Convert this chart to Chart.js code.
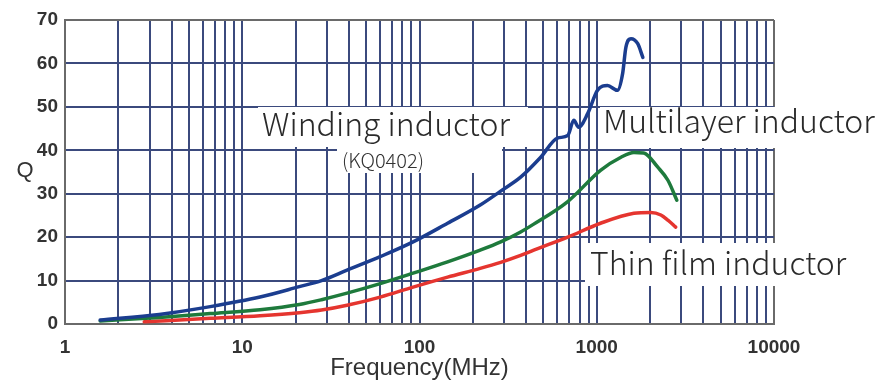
<!DOCTYPE html>
<html>
<head>
<meta charset="utf-8">
<script src="https://cdn.jsdelivr.net/npm/chart.js@4.4.0/dist/chart.umd.min.js"></script>
<style>
    html, body { margin: 0; padding: 0; background: #fff; }
</style>
</head>
<body>
<canvas id="chart-q" width="894" height="384"></canvas>
<script>
// Q vs frequency
const windingFreq = [1.58, 3.4, 6.6, 12.6, 21, 28, 39, 60, 92, 144, 220, 287, 372, 483, 600, 686, 742, 790, 890, 1010, 1150, 1310, 1400, 1460, 1560, 1700, 1820];
const windingQ    = [0.9, 2.2, 4.0, 6.2, 8.6, 10.0, 12.4, 15.5, 18.9, 23.2, 27.4, 30.6, 33.8, 38.4, 42.8, 43.4, 46.9, 45.3, 48.5, 53.8, 54.9, 53.8, 57.7, 63.7, 65.7, 64.6, 61.4];

const multiFreq = [1.58, 3.4, 6.6, 12.6, 21, 28, 39, 60, 92, 144, 220, 287, 372, 441, 686, 1050, 1370, 1620, 1840, 2210, 2520, 2830];
const multiQ    = [0.7, 1.5, 2.4, 3.3, 4.5, 5.6, 7.1, 9.3, 11.7, 14.3, 17.0, 18.9, 21.2, 23.0, 28.2, 35.4, 38.4, 39.5, 39.4, 36.1, 33.1, 28.5];

const thinFreq = [2.8, 6.6, 12.6, 21, 28, 39, 60, 92, 144, 220, 287, 372, 441, 686, 1050, 1620, 2020, 2300, 2520, 2790];
const thinQ    = [0.5, 1.3, 1.9, 2.6, 3.2, 4.3, 6.2, 8.5, 10.8, 12.8, 14.2, 15.8, 17, 20, 23.2, 25.5, 25.7, 25.1, 23.9, 22.3];

const xLabelTicks = [1, 10, 100, 1000, 10000];
const gridSteps = [1, 2, 3, 4, 5, 6, 7, 8, 9];
const yMin = 0, yMax = 70, yStep = 10;

const GRID = '#3b4a7d';
const FRAME = '#6a6a6a';
const LABEL_FONT = '"Noto Sans CJK JP", "Noto Sans", sans-serif';

function toPoints(xs, ys) {
    return xs.map((x, i) => ({ x: x, y: ys[i] }));
}

// one grid line per 1..9 x decade, plus the last decade label
function logGridTicks() {
    const ticks = [];
    xLabelTicks.slice(0, -1).forEach(d => gridSteps.forEach(s => ticks.push({ value: d * s })));
    ticks.push({ value: xLabelTicks[xLabelTicks.length - 1] });
    return ticks;
}

// white label boxes and texts sitting on top of the grid
const annotations = {
    id: 'annotations',
    beforeDatasetsDraw(chart) {
        const ctx = chart.ctx;
        ctx.save();
        ctx.fillStyle = '#fff';
        ctx.fillRect(258, 107, 270, 40);   // Winding inductor
        ctx.fillRect(337, 147, 165, 26);   // (KQ0402)
        ctx.fillRect(600, 107, 294, 41);   // Multilayer inductor
        ctx.fillRect(585, 243, 270, 43);   // Thin film inductor

        ctx.fillStyle = '#2a2a2a';
        ctx.textBaseline = 'alphabetic';
        ctx.textAlign = 'left';
        ctx.font = '300 32px ' + LABEL_FONT;
        ctx.fillText('Winding inductor', 262, 136);
        ctx.fillText('Multilayer inductor', 603, 133);
        ctx.fillText('Thin film inductor', 590, 275);
        ctx.fillStyle = '#333';
        ctx.font = '300 20px ' + LABEL_FONT;
        ctx.fillText('(KQ0402)', 342, 168);

        // y axis title, upright
        ctx.font = '22px "Liberation Sans", Arial, sans-serif';
        ctx.textAlign = 'center';
        ctx.textBaseline = 'middle';
        ctx.fillText('Q', 25, 171);
        ctx.restore();
    }
};

const ctxQ = document.getElementById('chart-q');
window.qChart = new Chart(ctxQ, {
    type: 'line',
    data: {
        datasets: [
            { label: 'Winding inductor', data: toPoints(windingFreq, windingQ), borderColor: '#1b3d8f' },
            { label: 'Multilayer inductor', data: toPoints(multiFreq, multiQ), borderColor: '#1e7a3c' },
            { label: 'Thin film inductor', data: toPoints(thinFreq, thinQ), borderColor: '#e5352f' }
        ]
    },
    options: {
        responsive: false,
        animation: false,
        devicePixelRatio: 1,
        elements: {
            point: { radius: 0 },
            line: { cubicInterpolationMode: 'monotone', fill: false, borderWidth: 3.5, borderCapStyle: 'round', borderJoinStyle: 'round' }
        },
        layout: { padding: { left: 0, right: 120, top: 20, bottom: 0 } },
        plugins: { legend: { display: false }, tooltip: { enabled: false } },
        scales: {
            x: {
                type: 'logarithmic',
                min: xLabelTicks[0],
                max: xLabelTicks[xLabelTicks.length - 1],
                afterBuildTicks: (scale) => { scale.ticks = logGridTicks(); },
                afterFit: (scale) => { scale.height = 60; },
                ticks: {
                    autoSkip: false, maxRotation: 0, padding: 12, color: '#333',
                    font: { family: 'Liberation Sans', size: 19, weight: 'bold' },
                    callback: (v) => xLabelTicks.includes(v) ? String(v) : ''
                },
                grid: {
                    drawTicks: false, lineWidth: 2,
                    color: (c) => (c.tick && (c.tick.value === 1 || c.tick.value === 10000)) ? FRAME : GRID
                },
                border: { color: FRAME, width: 2 },
                title: {
                    display: true, text: 'Frequency(MHz)', color: '#333',
                    font: { family: 'Liberation Sans', size: 24 }, padding: { top: 0, bottom: 1 }
                }
            },
            y: {
                min: yMin, max: yMax,
                afterFit: (scale) => { scale.width = 65; },
                ticks: {
                    stepSize: yStep, padding: 7, color: '#333',
                    font: { family: 'Liberation Sans', size: 19, weight: 'bold' }
                },
                grid: {
                    drawTicks: false, lineWidth: 2,
                    color: (c) => (c.tick && (c.tick.value === yMin || c.tick.value === yMax)) ? FRAME : GRID
                },
                border: { color: FRAME, width: 2 }
            }
        }
    },
    plugins: [annotations]
});
</script>
</body>
</html>
